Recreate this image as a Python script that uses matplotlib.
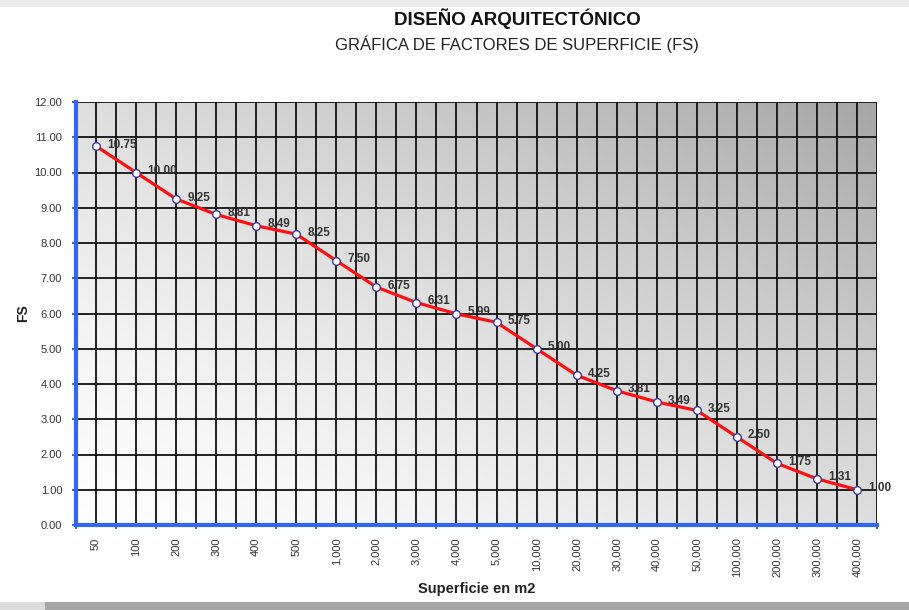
import numpy as np
import matplotlib
matplotlib.use("Agg")
import matplotlib.pyplot as plt
from matplotlib.colors import LinearSegmentedColormap
from matplotlib.patches import Rectangle

# Surface-factor (FS) table by built area
superficie = ["50", "100", "200", "300", "400", "500", "1,000", "2,000", "3,000",
              "4,000", "5,000", "10,000", "20,000", "30,000", "40,000", "50,000",
              "100,000", "200,000", "300,000", "400,000"]
fs = [10.75, 10.00, 9.25, 8.81, 8.49, 8.25, 7.50, 6.75, 6.31, 5.99,
      5.75, 5.00, 4.25, 3.81, 3.49, 3.25, 2.50, 1.75, 1.31, 1.00]

title = "DISEÑO ARQUITECTÓNICO"
subtitle = "GRÁFICA DE FACTORES DE SUPERFICIE (FS)"
x_label = "Superficie en m2"
y_label = "FS"
y_ticks = np.arange(0, 13, 1)

plt.rcParams['font.family'] = ['Liberation Sans', 'DejaVu Sans']

fig = plt.figure(figsize=(9.09, 6.10), dpi=100)
fig.patch.set_facecolor("white")

# thin page bands at top and bottom
fig.add_artist(Rectangle((0, 1 - 7 / 610), 1, 7 / 610, transform=fig.transFigure,
                         facecolor="#ececec", edgecolor="none", zorder=0))
fig.add_artist(Rectangle((0, 0), 1, 8 / 610, transform=fig.transFigure,
                         facecolor="#a6a6a6", edgecolor="none", zorder=0))
fig.add_artist(Rectangle((0, 0), 45 / 909, 8 / 610, transform=fig.transFigure,
                         facecolor="#dcdcdc", edgecolor="none", zorder=0))

ax = fig.add_axes([76 / 909, 1 - 525 / 610, (877 - 76) / 909, (525 - 102) / 610])

n = len(fs)
x = np.arange(n)

# diagonal grey gradient plot background, darkening toward the top-right corner
gx, gy = np.meshgrid(np.linspace(0, 1, 256), np.linspace(0, 1, 256))
grad = ((gx + gy) / 2) ** 1.5
cmap = LinearSegmentedColormap.from_list("bg", ["#fdfdfd", "#a6a6a6"])
ax.imshow(grad, cmap=cmap, origin="lower", extent=[0, 1, 0, 1],
          transform=ax.transAxes, aspect="auto", zorder=0, interpolation="bilinear")

ax.set_xlim(-0.5, n - 0.5)
ax.set_ylim(0, 12)

# grid: horizontal at each unit, vertical at every half category
for yv in y_ticks[1:]:
    ax.axhline(yv, color="#111111", lw=1.3, zorder=1)
for xv in np.arange(0, n - 0.5 + 1e-9, 0.5):
    ax.axvline(xv, color="#111111", lw=1.3, zorder=1)

ax.plot(x, fs, color="#ff1010", lw=2.3, zorder=3,
        marker="o", markersize=5.5, markerfacecolor="white",
        markeredgecolor="#3a3a9a", markeredgewidth=1.0)

for xi, v in zip(x, fs):
    ax.annotate(f"{v:.2f}", (xi, v), xytext=(8, 1), textcoords="offset points",
                ha="left", va="center", fontsize=8.5, fontweight="bold",
                color="#333333", zorder=4)

ax.set_yticks(y_ticks)
ax.set_yticklabels([f"{v:.2f}" for v in y_ticks])
ax.set_xticks(np.arange(-0.5, n, 1.0))
ax.set_xticklabels([])
ax.set_xticks(x, minor=True)
ax.set_xticklabels(superficie, minor=True, rotation=90)
ax.tick_params(axis="x", which="minor", length=0, pad=9, labelsize=8, labelcolor="#333333")
ax.tick_params(axis="x", which="major", length=3, width=1.5, color="#3366ee")
ax.tick_params(axis="y", length=3, width=1.5, color="#3366ee", labelsize=8,
               labelcolor="#333333", pad=7)

for s in ["top", "right"]:
    ax.spines[s].set_visible(False)
for s in ["left", "bottom"]:
    ax.spines[s].set_color("#3366ee")
    ax.spines[s].set_linewidth(3)
    ax.spines[s].set_zorder(5)

ax.set_xlabel(x_label, fontsize=10.5, fontweight="bold", color="#222222", labelpad=3)
ax.set_ylabel(y_label, fontsize=10, fontweight="bold", color="#222222", labelpad=3)

fig.text(517 / 909, 1 - 19 / 610, title, ha="center", va="center",
         fontsize=13.5, fontweight="bold", color="#111111")
fig.text(517 / 909, 1 - 44 / 610, subtitle, ha="center", va="center",
         fontsize=12, color="#222222")

fig.savefig("out.png", dpi=100)
